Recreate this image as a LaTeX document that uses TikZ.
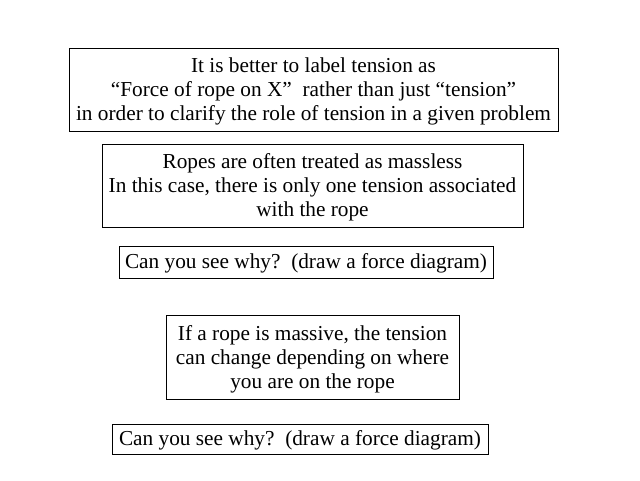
\documentclass[tikz,border=0pt]{standalone}
\usepackage{fontspec}
\setmainfont{Liberation Serif}
\begin{document}
\begin{tikzpicture}[x=1pt,y=-1pt,
  box/.style={draw=black,line width=0.9pt,inner sep=0pt},
  txt/.style={inner sep=0pt,align=center,font=\fontsize{21.3}{24}\selectfont}]
\useasboundingbox[fill=white] (0,0) rectangle (640,480);
\node[box,minimum width=489pt,minimum height=83pt] (b1) at (313.5,89.5) {};
\node[txt] (t1) at ([yshift=-2pt]b1.center)
  {It is better to label tension as\\``Force of rope on X''\ \ rather than just ``tension''\\in order to clarify the role of tension in a given problem};
\node[box,minimum width=421pt,minimum height=83pt] (b2) at (312.5,185.5) {};
\node[txt] (t2) at ([yshift=-2pt]b2.center)
  {Ropes are often treated as massless\\In this case, there is only one tension associated\\with the rope};
\node[box,minimum width=374pt,minimum height=32pt] (b3) at (306,262) {};
\node[txt] (t3) at ([yshift=-1pt]b3.center)
  {Can you see why?\ \ (draw a force diagram)};
\node[box,minimum width=293pt,minimum height=84pt] (b4) at (312.5,357) {};
\node[txt] (t4) at ([yshift=-2pt]b4.center)
  {If a rope is massive, the tension\\can change depending on where\\you are on the rope};
\node[box,minimum width=376pt,minimum height=30pt] (b5) at (300,439) {};
\node[txt] (t5) at ([yshift=-1pt]b5.center)
  {Can you see why?\ \ (draw a force diagram)};
\end{tikzpicture}
\end{document}
